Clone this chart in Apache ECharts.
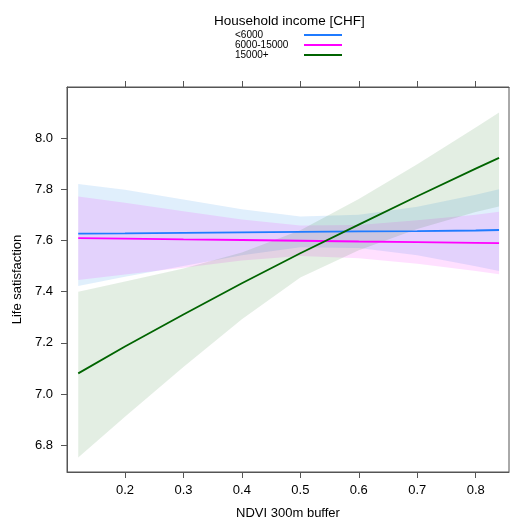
<!DOCTYPE html>
<html><head><meta charset="utf-8">
<script src="https://cdn.jsdelivr.net/npm/echarts@6.0.0/dist/echarts.min.js"></script>
<style>html,body{margin:0;padding:0;background:#fff}#c{width:510px;height:520px}</style>
</head><body><div id="c"></div>
<script>
// ---- data ----
const ndvi = [0.12, 0.2, 0.3, 0.4, 0.5, 0.6, 0.7, 0.8, 0.84];
const groups = ['<6000', '6000-15000', '15000+'];

const lowFit   = [7.627, 7.628, 7.630, 7.632, 7.634, 7.636, 7.637, 7.639, 7.641];
const lowUpper = [7.821, 7.798, 7.760, 7.722, 7.694, 7.701, 7.732, 7.779, 7.800];
const lowLower = [7.422, 7.458, 7.500, 7.542, 7.574, 7.571, 7.542, 7.499, 7.481];

const midFit   = [7.609, 7.607, 7.604, 7.602, 7.599, 7.596, 7.594, 7.591, 7.590];
const midUpper = [7.772, 7.747, 7.714, 7.682, 7.659, 7.661, 7.679, 7.701, 7.712];
const midLower = [7.446, 7.467, 7.494, 7.522, 7.539, 7.531, 7.509, 7.481, 7.468];

const highFit   = [7.081, 7.186, 7.311, 7.433, 7.550, 7.662, 7.773, 7.881, 7.923];
const highUpper = [7.400, 7.440, 7.491, 7.553, 7.640, 7.762, 7.898, 8.041, 8.100];
const highLower = [6.752, 6.912, 7.106, 7.292, 7.455, 7.562, 7.645, 7.711, 7.733];

const xTicks = [0.2, 0.3, 0.4, 0.5, 0.6, 0.7, 0.8];
const yTicks = [6.8, 7.0, 7.2, 7.4, 7.6, 7.8, 8.0];

// ---- styling ----
const FONT = '"Liberation Sans", Arial, sans-serif';
const AX = '#555';
const lineColors = ['#1f7bff', '#ff00ff', '#006400'];
const bandColors = ['rgba(0,120,230,0.12)', 'rgba(255,0,255,0.12)', 'rgba(0,100,0,0.11)'];
const X_MIN = 0.1008, X_MAX = 0.857, Y_MIN = 6.6957, Y_MAX = 8.1996;

function bandSeries(name, up, lo, color) {
  return {
    type: 'custom', name: name, silent: true, z: 1,
    data: ndvi.map((x, i) => [x, lo[i], up[i]]),
    encode: { x: 0, y: [1, 2] },
    renderItem: function (params, api) {
      if (params.dataIndex !== 0) return null;
      const pts = [];
      for (let i = 0; i < ndvi.length; i++) pts.push(api.coord([ndvi[i], up[i]]));
      for (let i = ndvi.length - 1; i >= 0; i--) pts.push(api.coord([ndvi[i], lo[i]]));
      return { type: 'polygon', shape: { points: pts }, style: { fill: color } };
    }
  };
}
function lineSeries(name, fit, color) {
  return {
    type: 'line', name: name, silent: true, z: 3, symbol: 'none',
    data: ndvi.map((x, i) => [x, fit[i]]),
    lineStyle: { width: 1.8, color: color }, itemStyle: { color: color }
  };
}

const chart = echarts.init(document.getElementById('c'), null, { renderer: 'canvas' });
chart.setOption({
  animation: false,
  backgroundColor: '#fff',
  title: {
    text: 'Household income [CHF]', left: 214, top: 14, padding: 0,
    textStyle: { fontSize: 13.5, fontWeight: 'normal', color: '#000', fontFamily: FONT }
  },
  legend: {
    data: groups, orient: 'vertical', left: 235, top: 30, padding: 0,
    align: 'right', icon: 'rect', itemWidth: 38, itemHeight: 2, itemGap: 0, selectedMode: false,
    formatter: function (n) { return '{t|' + n + '}'; },
    textStyle: {
      fontSize: 10, color: '#000', fontFamily: FONT,
      rich: { t: { width: 64, align: 'left', fontSize: 10, lineHeight: 10.5, color: '#000', fontFamily: FONT } }
    }
  },
  grid: { left: 67, right: 1, top: 87, bottom: 48, show: true, borderColor: AX, borderWidth: 1,
          containLabel: false, outerBoundsMode: 'none' },
  xAxis: [
    {
      type: 'value', min: X_MIN, max: X_MAX, position: 'bottom',
      name: 'NDVI 300m buffer', nameLocation: 'middle', nameGap: 35,
      nameTextStyle: { fontSize: 13, color: '#000', fontFamily: FONT },
      axisLine: { show: true, lineStyle: { color: AX } },
      axisTick: { show: true, inside: false, length: 6, lineStyle: { color: AX }, customValues: xTicks },
      axisLabel: { customValues: xTicks, margin: 12, fontSize: 13, color: '#000', fontFamily: FONT,
                   formatter: v => v.toFixed(1) },
      splitLine: { show: false }
    },
    {
      type: 'value', min: X_MIN, max: X_MAX, position: 'top',
      axisLine: { show: true, lineStyle: { color: AX } },
      axisTick: { show: true, inside: false, length: 6, lineStyle: { color: AX }, customValues: xTicks },
      axisLabel: { show: false }, splitLine: { show: false }
    }
  ],
  yAxis: [
    {
      type: 'value', min: Y_MIN, max: Y_MAX, position: 'left',
      name: 'Life satisfaction', nameLocation: 'middle', nameGap: 38,
      nameTextStyle: { fontSize: 13, color: '#000', fontFamily: FONT },
      axisLine: { show: true, lineStyle: { color: AX } },
      axisTick: { show: true, inside: false, length: 6, lineStyle: { color: AX }, customValues: yTicks },
      axisLabel: { customValues: yTicks, margin: 14, fontSize: 13, color: '#000', fontFamily: FONT,
                   formatter: v => v.toFixed(1) },
      splitLine: { show: false }
    }
  ],
  series: [
    bandSeries('<6000 CI', lowUpper, lowLower, bandColors[0]),
    bandSeries('6000-15000 CI', midUpper, midLower, bandColors[1]),
    bandSeries('15000+ CI', highUpper, highLower, bandColors[2]),
    lineSeries(groups[0], lowFit, lineColors[0]),
    lineSeries(groups[1], midFit, lineColors[1]),
    lineSeries(groups[2], highFit, lineColors[2])
  ]
});
</script>
</body></html>
